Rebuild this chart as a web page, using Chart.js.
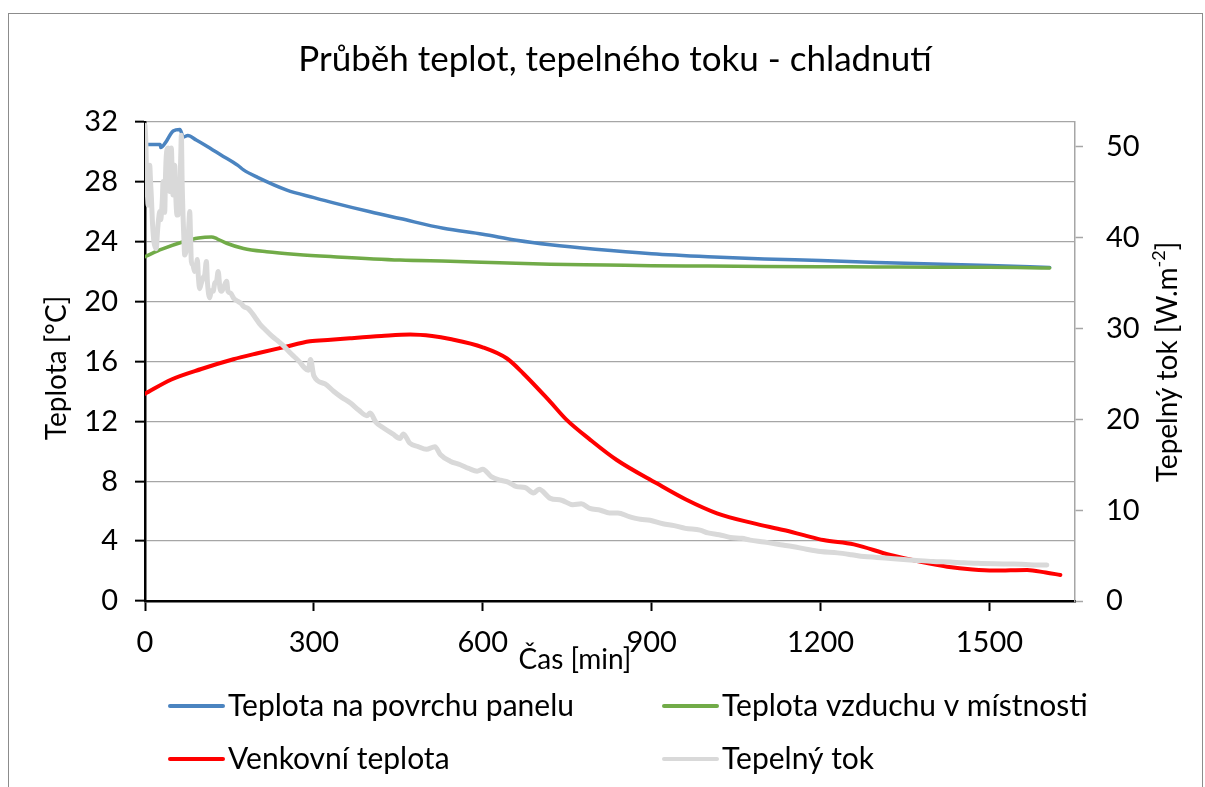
<!DOCTYPE html>
<html>
<head>
<meta charset="utf-8">
<script src="https://cdn.jsdelivr.net/npm/chart.js@4.4.0/dist/chart.umd.min.js"></script>
<style>
  html, body { margin: 0; padding: 0; background: #ffffff; }
  #wrap { position: relative; width: 1205px; height: 787px; }
</style>
</head>
<body>
<div id="wrap"><canvas id="c"></canvas></div>
<script>
// ---- Data (time in minutes) ----
const chartTitle = 'Průběh teplot, tepelného toku - chladnutí';
const xTitle = 'Čas [min]';
const yLeftTitle = 'Teplota [°C]';
const yRightTitleMain = 'Tepelný tok [W.m';
const yRightTitleSup = '-2';
const yRightTitleEnd = ']';

const seriesNames = ['Teplota na povrchu panelu', 'Teplota vzduchu v místnosti', 'Venkovní teplota', 'Tepelný tok'];

const panelTime = [0, 27, 28, 36, 50, 62, 68, 76, 91, 107, 135, 165, 175, 200, 252, 300, 335, 400, 453, 530, 600, 660, 720, 800, 900, 1000, 1100, 1200, 1300, 1400, 1500, 1607];
const panelTemp = [30.5, 30.5, 30.3, 30.6, 31.4, 31.5, 31.0, 31.1, 30.8, 30.45, 29.8, 29.1, 28.8, 28.3, 27.45, 26.95, 26.6, 26.0, 25.55, 24.9, 24.5, 24.1, 23.8, 23.5, 23.2, 23.0, 22.85, 22.75, 22.62, 22.52, 22.42, 22.28];

const airTime = [0, 30, 68, 95, 118, 128, 145, 175, 216, 270, 335, 453, 542, 630, 720, 820, 900, 1000, 1100, 1200, 1300, 1400, 1500, 1607];
const airTemp = [23.0, 23.5, 24.0, 24.25, 24.32, 24.2, 23.9, 23.55, 23.33, 23.15, 23.0, 22.78, 22.7, 22.6, 22.5, 22.45, 22.4, 22.38, 22.35, 22.33, 22.32, 22.3, 22.3, 22.25];

const outTime = [0, 47, 100, 157, 200, 246, 293, 330, 364, 420, 471, 510, 542, 600, 643, 672, 720, 749, 790, 838, 909, 960, 1016, 1080, 1134, 1170, 1205, 1259, 1324, 1380, 1425, 1470, 1508, 1567, 1600, 1626];
const outTemp = [13.85, 14.8, 15.5, 16.15, 16.55, 16.95, 17.35, 17.45, 17.55, 17.7, 17.8, 17.7, 17.5, 16.95, 16.2, 15.2, 13.3, 12.1, 10.8, 9.42, 7.86, 6.8, 5.86, 5.2, 4.74, 4.4, 4.07, 3.78, 3.07, 2.6, 2.29, 2.1, 2.03, 2.07, 1.9, 1.74];

const fluxTime = [0, 1.5, 3, 4.5, 5.5, 7, 8.3, 10, 11.3, 13, 14.2, 16, 18, 20, 22, 23.1, 25, 26.1, 28, 29, 31, 32, 34, 35, 36.5, 37.9, 40.9, 42.5, 43.8, 45.5, 46.8, 48.5, 49.8, 51.5, 52.7, 54.5, 55.7, 57, 58.6, 60, 61.6, 63.5, 64.6, 66, 67.5, 69, 70.5, 73, 76.4, 78, 79.4, 81, 82.3, 85, 88.3, 91, 93, 95, 97.1, 100, 104, 106, 109, 111, 115, 118, 121, 124, 127, 130, 133, 136, 140, 145, 147.5, 152, 158, 165, 170, 176, 183, 189, 196, 204, 215, 225, 235, 246, 260, 275, 283, 290, 294, 300, 320, 335, 350, 365, 380, 394, 400, 410, 425, 440, 453, 459, 470, 485, 500, 515, 525, 542, 560, 575, 590, 600, 615, 631, 645, 660, 675, 690, 700, 720, 740, 760, 775, 790, 809, 825, 840, 860, 880, 897, 920, 940, 960, 986, 1000, 1020, 1040, 1060, 1075, 1100, 1129, 1150, 1175, 1200, 1230, 1255, 1277, 1300, 1330, 1365, 1400, 1430, 1454, 1480, 1510, 1543, 1570, 1602];
const fluxValue = [52.4, 50.5, 46.0, 44.5, 43.6, 46.5, 48.0, 46.0, 44.5, 42.0, 40.7, 39.5, 39.0, 38.8, 40.5, 41.4, 42.5, 42.9, 42.0, 42.5, 44.5, 46.2, 44.0, 42.8, 47.0, 49.1, 49.9, 47.5, 45.1, 48.0, 49.9, 46.5, 44.7, 46.5, 48.0, 45.0, 43.2, 42.5, 42.5, 43.5, 44.3, 49.0, 51.3, 46.0, 42.5, 40.0, 38.1, 38.5, 39.9, 41.5, 42.9, 40.0, 37.4, 37.0, 36.3, 36.8, 37.6, 35.5, 34.4, 35.0, 35.7, 35.9, 37.4, 35.0, 33.4, 34.2, 34.1, 35.0, 35.2, 36.3, 34.5, 34.1, 34.6, 35.2, 34.1, 33.9, 33.3, 33.0, 32.8, 32.4, 32.2, 31.8, 31.2, 30.5, 29.8, 29.2, 28.7, 28.1, 27.2, 26.3, 25.7, 25.4, 26.6, 24.8, 23.9, 23.1, 22.4, 21.8, 21.0, 20.4, 20.7, 19.7, 19.0, 18.4, 17.9, 18.4, 17.4, 17.0, 16.7, 17.0, 16.1, 15.4, 15.0, 14.6, 14.3, 14.5, 13.7, 13.3, 13.1, 12.6, 12.5, 11.9, 12.3, 11.3, 11.1, 10.6, 10.7, 10.2, 10.0, 9.7, 9.7, 9.3, 9.0, 8.9, 8.5, 8.3, 8.0, 7.8, 7.5, 7.3, 7.0, 6.9, 6.7, 6.5, 6.2, 6.0, 5.7, 5.45, 5.3, 5.1, 4.9, 4.8, 4.65, 4.5, 4.35, 4.3, 4.2, 4.15, 4.1, 4.07, 4.0, 3.96];

const xTicks = [0, 300, 600, 900, 1200, 1500];
const leftTicks = [0, 4, 8, 12, 16, 20, 24, 28, 32];
const rightTicks = [0, 10, 20, 30, 40, 50];

function pts(t, v) { return t.map((x, i) => ({ x: x, y: v[i] })); }

const FONT = 'Lato, "Open Sans", sans-serif';
const colors = ['#4b84c0', '#71ab48', '#ff0000', '#d9d9d9'];

const overlay = {
  id: 'overlay',
  beforeDraw(chart) {
    const ctx = chart.ctx;
    ctx.save();
    ctx.fillStyle = '#ffffff';
    ctx.fillRect(0, 0, chart.width, chart.height);
    ctx.strokeStyle = '#8c8c8c';
    ctx.lineWidth = 1;
    ctx.strokeRect(8.5, 13.5, 1194, 800);
    ctx.restore();
  },
  afterDraw(chart) {
    const ctx = chart.ctx;
    ctx.save();
    ctx.fillStyle = '#000000';
    ctx.textBaseline = 'middle';
    ctx.textAlign = 'center';
    // title
    ctx.font = '35px ' + FONT;
    ctx.fillText(chartTitle, 615, 60);
    // x title
    ctx.font = '28px ' + FONT;
    ctx.fillText(xTitle, 575, 660);
    // left y title
    ctx.save();
    ctx.translate(57, 368);
    ctx.rotate(-Math.PI / 2);
    ctx.fillText(yLeftTitle, 0, 0);
    ctx.restore();
    // right y title with superscript
    ctx.save();
    ctx.translate(1168, 362);
    ctx.rotate(-Math.PI / 2);
    ctx.textAlign = 'left';
    ctx.font = '28px ' + FONT;
    const w1 = ctx.measureText(yRightTitleMain).width;
    const w3 = ctx.measureText(yRightTitleEnd).width;
    ctx.font = '18px ' + FONT;
    const w2 = ctx.measureText(yRightTitleSup).width;
    const total = w1 + w2 + w3;
    let x0 = -total / 2;
    ctx.font = '28px ' + FONT;
    ctx.fillText(yRightTitleMain, x0, 0);
    ctx.font = '18px ' + FONT;
    ctx.fillText(yRightTitleSup, x0 + w1, -9);
    ctx.font = '28px ' + FONT;
    ctx.fillText(yRightTitleEnd, x0 + w1 + w2, 0);
    ctx.restore();
    // legend
    const pos = [[170, 706], [664, 706], [170, 759], [664, 759]];
    ctx.font = '30px ' + FONT;
    ctx.textAlign = 'left';
    chart.data.datasets.forEach((ds, i) => {
      const p = pos[i];
      ctx.strokeStyle = ds.borderColor;
      ctx.lineWidth = 4;
      ctx.lineCap = 'round';
      ctx.beginPath();
      ctx.moveTo(p[0], p[1]);
      ctx.lineTo(p[0] + 53, p[1]);
      ctx.stroke();
      ctx.fillStyle = '#000000';
      ctx.fillText(ds.label, p[0] + 58, p[1]);
    });
    ctx.restore();
  }
};

new Chart(document.getElementById('c'), {
  type: 'line',
  data: {
    datasets: [
      { label: seriesNames[0], data: pts(panelTime, panelTemp), borderColor: colors[0], borderWidth: 3.5, yAxisID: 'y', order: 3 },
      { label: seriesNames[1], data: pts(airTime, airTemp), borderColor: colors[1], borderWidth: 3.5, yAxisID: 'y', order: 2 },
      { label: seriesNames[2], data: pts(outTime, outTemp), borderColor: colors[2], borderWidth: 4, yAxisID: 'y', order: 1 },
      { label: seriesNames[3], data: pts(fluxTime, fluxValue), borderColor: colors[3], borderWidth: 5, yAxisID: 'y1', order: 0 }
    ]
  },
  options: {
    responsive: true,
    maintainAspectRatio: false,
    animation: false,
    devicePixelRatio: 1,
    layout: { padding: { top: 122, left: 0, right: 0, bottom: 0 } },
    elements: {
      point: { radius: 0 },
      line: { cubicInterpolationMode: 'monotone', borderCapStyle: 'round', borderJoinStyle: 'round', fill: false }
    },
    plugins: { legend: { display: false }, tooltip: { enabled: false }, title: { display: false } },
    scales: {
      x: {
        type: 'linear', position: 'bottom', min: 0, max: 1652,
        afterFit(s) { s.height = 186; },
        afterBuildTicks(s) { s.ticks = xTicks.map(v => ({ value: v })); },
        ticks: { font: { family: FONT, size: 29 }, color: '#000', padding: 14, maxRotation: 0, autoSkip: false, callback: v => String(v) },
        grid: { drawOnChartArea: false, tickLength: 10, tickColor: '#000', tickWidth: 2 },
        border: { color: '#000', width: 2.5 }
      },
      y: {
        type: 'linear', position: 'left', min: 0, max: 32,
        afterFit(s) { s.width = 145; },
        afterBuildTicks(s) { s.ticks = leftTicks.map(v => ({ value: v })); },
        ticks: { font: { family: FONT, size: 29 }, color: '#000', padding: 17, autoSkip: false, callback: v => String(v) },
        grid: { color: '#a6a6a6', lineWidth: 1.3, tickLength: 10, tickColor: '#000', tickWidth: 2 },
        border: { color: '#000', width: 2.5 }
      },
      y1: {
        type: 'linear', position: 'right', min: 0, max: 52.75,
        afterFit(s) { s.width = 130; },
        afterBuildTicks(s) { s.ticks = rightTicks.map(v => ({ value: v })); },
        ticks: { font: { family: FONT, size: 29 }, color: '#000', padding: 23, autoSkip: false, callback: v => String(v) },
        grid: { drawOnChartArea: false, tickLength: 8, tickColor: '#a6a6a6', tickWidth: 1.5 },
        border: { color: '#a6a6a6', width: 1.5 }
      }
    }
  },
  plugins: [overlay]
});
</script>
</body>
</html>
